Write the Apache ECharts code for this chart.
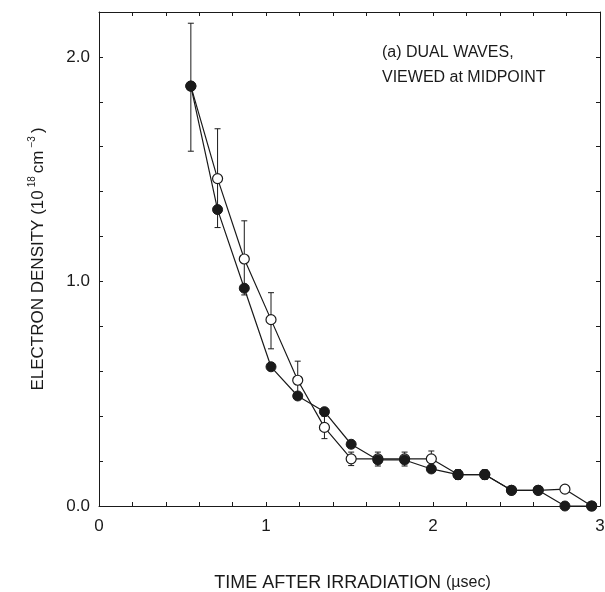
<!DOCTYPE html>
<html>
<head>
<meta charset="utf-8">
<script src="https://cdn.jsdelivr.net/npm/echarts@6/dist/echarts.min.js"></script>
<style>
html,body{margin:0;padding:0;background:#fff;}
#chart{width:605px;height:592px;}
</style>
</head>
<body>
<div id="chart"></div>
<script>
// Time after irradiation (µsec)
var times = [0.55, 0.71, 0.87, 1.03, 1.19, 1.35, 1.51, 1.67, 1.83, 1.99, 2.15, 2.31, 2.47, 2.63, 2.79, 2.95];
// Filled circles
var filledValues = [1.87, 1.32, 0.97, 0.62, 0.49, 0.42, 0.275, 0.205, 0.205, 0.165, 0.14, 0.14, 0.07, 0.07, 0.0, 0.0];
// Open circles
var openValues = [1.87, 1.458, 1.10, 0.83, 0.56, 0.35, 0.21, 0.21, 0.21, 0.21, 0.14, 0.14, 0.07, 0.07, 0.075, 0.0];
// Error bars
var errX = [0.55, 0.71, 0.87, 1.03, 1.19, 1.35, 1.51, 1.67, 1.83, 1.99, 2.15, 2.31];
var errLow = [1.58, 1.24, 0.94, 0.70, 0.475, 0.30, 0.18, 0.178, 0.178, 0.18, 0.118, 0.118];
var errHigh = [2.15, 1.68, 1.27, 0.95, 0.645, 0.40, 0.24, 0.24, 0.24, 0.245, 0.162, 0.162];
// Tick labels
var xTickLabels = ['0', '1', '2', '3'];
var yTickLabels = ['0.0', '1.0', '2.0'];

var FONT = 'Liberation Sans';
var INK = '#1a1a1a';

function pairs(xs, ys) { return xs.map(function (x, i) { return [x, ys[i]]; }); }
function isInt(v) { return Math.abs(v - Math.round(v)) < 1e-6; }

var chart = echarts.init(document.getElementById('chart'));

function axisCommon(extra) {
  var base = {
    type: 'value',
    axisLine: { show: true, onZero: false, lineStyle: { color: INK, width: 1 } },
    axisTick: { show: true, inside: true, length: 4, lineStyle: { color: INK, width: 1 } },
    splitLine: { show: false }
  };
  for (var k in extra) base[k] = extra[k];
  return base;
}

var option = {
  backgroundColor: '#fff',
  animation: false,
  grid: { left: 99, right: 5, top: 12, bottom: 86, containLabel: false, outerBoundsMode: 'none' },
  xAxis: [
    axisCommon({
      position: 'bottom', min: 0, max: 3, interval: 0.2,
      name: 'TIME AFTER IRRADIATION {sm|(µsec)}',
      nameLocation: 'middle', nameGap: 68,
      nameTextStyle: {
        fontFamily: FONT, fontSize: 18, color: INK, padding: [0, 0, 0, 6],
        rich: { sm: { fontFamily: FONT, fontSize: 16, color: INK } }
      },
      axisLabel: {
        show: true, margin: 12, fontFamily: FONT, fontSize: 17, color: INK,
        formatter: function (v) { return isInt(v) ? xTickLabels[Math.round(v)] : ''; }
      }
    }),
    axisCommon({
      position: 'top', min: 0, max: 3, interval: 0.2,
      axisLabel: { show: false }
    })
  ],
  yAxis: [
    axisCommon({
      position: 'left', min: 0, max: 2.2, interval: 0.2,
      name: 'ELECTRON DENSITY (10{sup|18}cm{sup|−3})',
      nameLocation: 'middle', nameGap: 50, nameRotate: 90,
      nameTextStyle: {
        fontFamily: FONT, fontSize: 17, color: INK, padding: [0, 0, 0, 0],
        rich: { sup: { fontFamily: FONT, fontSize: 10, color: INK, verticalAlign: 'top', padding: [0, 3, 12, 3] } }
      },
      axisLabel: {
        show: true, margin: 9, fontFamily: FONT, fontSize: 17, color: INK,
        formatter: function (v) { return isInt(v) ? yTickLabels[Math.round(v)] : ''; }
      }
    }),
    axisCommon({
      position: 'right', min: 0, max: 2.2, interval: 0.2,
      axisLabel: { show: false }
    })
  ],
  graphic: [{
    type: 'text', left: 382, top: 40,
    style: {
      text: '(a) DUAL WAVES,\nVIEWED at MIDPOINT',
      font: '16px "Liberation Sans"', fill: INK, lineHeight: 25
    }
  }],
  series: [
    {
      name: 'errors', type: 'custom', xAxisIndex: 0, yAxisIndex: 0, z: 2,
      data: errX.map(function (x, i) { return [x, errLow[i], errHigh[i]]; }),
      renderItem: function (params, api) {
        var lo = api.coord([api.value(0), api.value(1)]);
        var hi = api.coord([api.value(0), api.value(2)]);
        var w = 3;
        var st = { stroke: INK, lineWidth: 1 };
        return {
          type: 'group',
          children: [
            { type: 'line', shape: { x1: lo[0], y1: lo[1], x2: hi[0], y2: hi[1] }, style: st },
            { type: 'line', shape: { x1: lo[0] - w, y1: lo[1], x2: lo[0] + w, y2: lo[1] }, style: st },
            { type: 'line', shape: { x1: hi[0] - w, y1: hi[1], x2: hi[0] + w, y2: hi[1] }, style: st }
          ]
        };
      }
    },
    {
      name: 'open', type: 'line', z: 3,
      data: pairs(times, openValues),
      symbol: 'circle', symbolSize: 10, showAllSymbol: true,
      lineStyle: { color: INK, width: 1.2 },
      itemStyle: { color: '#fff', borderColor: INK, borderWidth: 1.2 }
    },
    {
      name: 'filled', type: 'line', z: 4,
      data: pairs(times, filledValues),
      symbol: 'circle', symbolSize: 10, showAllSymbol: true,
      lineStyle: { color: INK, width: 1.2 },
      itemStyle: { color: INK, borderColor: INK, borderWidth: 1 }
    }
  ]
};
chart.setOption(option);
</script>
</body>
</html>
